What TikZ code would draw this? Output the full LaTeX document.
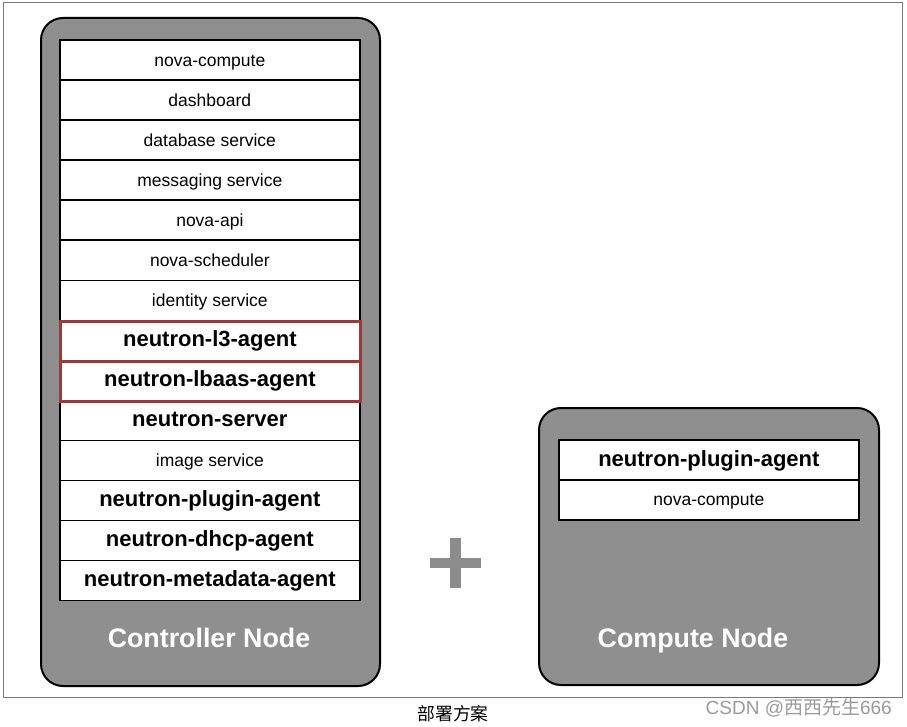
\documentclass[tikz,border=0pt]{standalone}
\usepackage{fontspec}
\setmainfont{Liberation Sans}
\newfontfamily\cjk{Noto Sans CJK SC}
\definecolor{nodegray}{HTML}{8F8F8F}
\definecolor{boxred}{HTML}{9C3A3A}
\definecolor{framegray}{HTML}{7A7A7A}
\definecolor{plusgray}{HTML}{8C8C8C}
\definecolor{wmgray}{HTML}{9A9A9A}
\begin{document}
\begin{tikzpicture}[x=1pt,y=-1pt,
  host/.style={draw=black, line width=2pt, fill=nodegray, rounded corners=22pt, anchor=north west, inner sep=0pt},
  row/.style={draw=black, line width=1.7pt, fill=white, minimum width=300pt, minimum height=40pt, inner sep=0pt, anchor=north west, text height=15.5pt, text depth=3.7pt, font=\fontsize{17.5}{20}\selectfont},
  brow/.style={row, text height=17.8pt, text depth=4.6pt, font=\fontsize{22}{24}\selectfont\bfseries},
  redrow/.style={draw=boxred, line width=3pt, minimum width=300pt, minimum height=40pt, inner sep=0pt, anchor=north west},
  hostlabel/.style={text=white, font=\fontsize{26.8}{30}\selectfont\bfseries},
  plusbar/.style={fill=plusgray, draw=none, inner sep=0pt}]
\useasboundingbox (0,0) rectangle (907,727);
\fill[white] (0,0) rectangle (907,727);
\node (frame) [draw=framegray, line width=1pt, minimum width=899pt, minimum height=695pt, anchor=north west, inner sep=0pt] at (3,2) {};
% controller node
\node (ctrl) [host, minimum width=339pt, minimum height=668pt] at (40,17) {};
\node (r1) [row] at (59,39.5) {nova-compute};
\node (r2) [row] at (59,79.5) {dashboard};
\node (r3) [row] at (59,119.5) {database service};
\node (r4) [row] at (59,159.5) {messaging service};
\node (r5) [row] at (59,199.5) {nova-api};
\node (r6) [row] at (59,239.5) {nova-scheduler};
\node (r7) [row] at (59,279.5) {identity service};
\node (r8) [brow] at (59,319.5) {neutron-l3-agent};
\node (r9) [brow] at (59,359.5) {neutron-lbaas-agent};
\node (r10) [brow] at (59,399.5) {neutron-server};
\node (r11) [row] at (59,439.5) {image service};
\node (r12) [brow] at (59,479.5) {neutron-plugin-agent};
\node (r13) [brow] at (59,519.5) {neutron-dhcp-agent};
\node (r14) [brow] at (59,559.5) {neutron-metadata-agent};
\node (red1) [redrow] at (59,319.5) {};
\node (red2) [redrow] at (59,359.5) {};
\node (ctrllabel) [hostlabel] at (209,638) {Controller Node};
% plus
\node (plush) [plusbar, minimum width=51pt, minimum height=10pt] at (455,563) {};
\node (plusv) [plusbar, minimum width=11pt, minimum height=50pt] at (455,563) {};
% compute node
\node (comp) [host, minimum width=340pt, minimum height=277pt] at (538,407) {};
\node (c1) [brow] at (558,439) {neutron-plugin-agent};
\node (c2) [row] at (558,479) {nova-compute};
\node (complabel) [hostlabel] at (693,641) {Compute Node};
% caption and watermark
\node (caption) [font=\cjk\fontsize{17.8}{20}\selectfont] at (453,714) {部署方案};
\node (wm) [anchor=east, text=wmgray, font=\fontsize{19}{22}\selectfont, inner sep=0pt] at (892,708) {CSDN @{\cjk 西西先生}666};
\end{tikzpicture}
\end{document}
